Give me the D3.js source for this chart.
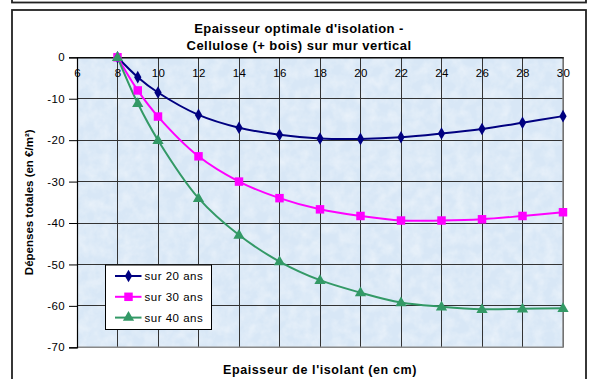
<!DOCTYPE html>
<html>
<head>
<meta charset="utf-8">
<script src="https://cdn.jsdelivr.net/npm/d3@7"></script>
<style>
  html, body { margin: 0; padding: 0; background: #ffffff; }
  svg { display: block; font-family: "Liberation Sans", Arial, sans-serif; }
</style>
</head>
<body>
<svg id="chart" width="589" height="379"></svg>
<script>
// Insulation thickness (cm) and cumulative total spending (€/m²)
const thickness = [8, 9, 10, 12, 14, 16, 18, 20, 22, 24, 26, 28, 30];
const over20 = [0, -4.8, -8.5, -13.9, -17.0, -18.7, -19.6, -19.7, -19.3, -18.4, -17.3, -15.8, -14.2];
const over30 = [0, -8.0, -14.3, -23.9, -30.0, -34.0, -36.7, -38.3, -39.4, -39.4, -39.1, -38.3, -37.4];
const over40 = [0, -11.1, -20.0, -34.0, -42.9, -49.3, -53.8, -56.8, -59.2, -60.2, -60.8, -60.7, -60.6];
const seriesNames = ["sur 20 ans", "sur 30 ans", "sur 40 ans"];
const seriesColors = ["#000080", "#ff00ff", "#339966"];
const xTicks = [6, 8, 10, 12, 14, 16, 18, 20, 22, 24, 26, 28, 30];
const yTicks = [0, -10, -20, -30, -40, -50, -60, -70];
const titleLines = ["Epaisseur optimale d'isolation -", "Cellulose (+ bois) sur mur vertical"];
const xTitle = "Epaisseur de l'isolant (en cm)";
const yTitle = "Dépenses totales (en €/m²)";

const svg = d3.select("#chart");
const plot = { left: 77, right: 563, top: 57.3, bottom: 347.3 };

const x = d3.scaleLinear().domain([6, 30]).range([plot.left, plot.right]);
const y = d3.scaleLinear().domain([-70, 0]).range([plot.bottom, plot.top]);

// Outer frames
svg.append("rect").attr("x", 12).attr("y", -10).attr("width", 574).attr("height", 12.5)
  .attr("fill", "none").attr("stroke", "#222").attr("stroke-width", 1.8);
svg.append("rect").attr("x", 12).attr("y", 10).attr("width", 574).attr("height", 380)
  .attr("fill", "#fff").attr("stroke", "#222").attr("stroke-width", 1.8);

// Plot background: pale blue paper with faint mottling
const defs = svg.append("defs");
const f = defs.append("filter").attr("id", "paper").attr("x", 0).attr("y", 0).attr("width", 1).attr("height", 1);
f.append("feTurbulence").attr("type", "fractalNoise").attr("baseFrequency", 0.09).attr("numOctaves", 3).attr("seed", 4).attr("result", "n");
f.append("feColorMatrix").attr("in", "n").attr("type", "matrix")
  .attr("values", "0 0 0 0 1  0 0 0 0 1  0 0 0 0 1  1.2 0 0 0 -0.4");
f.append("feComposite").attr("in2", "SourceGraphic").attr("operator", "in");

svg.append("rect").attr("x", plot.left).attr("y", plot.top)
  .attr("width", plot.right - plot.left).attr("height", plot.bottom - plot.top)
  .attr("fill", "#d8e7f6");
svg.append("rect").attr("x", plot.left).attr("y", plot.top)
  .attr("width", plot.right - plot.left).attr("height", plot.bottom - plot.top)
  .attr("fill", "#ffffff").attr("opacity", 0.6).attr("filter", "url(#paper)");

// Gridlines
const grid = svg.append("g").attr("stroke", "#333").attr("stroke-width", 1).attr("shape-rendering", "crispEdges");
grid.selectAll("line.v").data(xTicks).join("line")
  .attr("x1", d => x(d)).attr("x2", d => x(d)).attr("y1", plot.top).attr("y2", plot.bottom);
grid.selectAll("line.h").data(yTicks).join("line")
  .attr("x1", plot.left).attr("x2", plot.right).attr("y1", d => y(d)).attr("y2", d => y(d));

// Plot border (right / bottom in grey)
svg.append("path")
  .attr("d", `M${plot.right},${plot.top}V${plot.bottom}H${plot.left}`)
  .attr("fill", "none").attr("stroke", "#888").attr("stroke-width", 1.5);

const labelFont = "'Liberation Sans', Arial, sans-serif";

// Y axis on the left
const yAxis = d3.axisLeft(y).tickValues(yTicks).tickSize(8).tickPadding(4).tickFormat(d3.format("d"));
const gy = svg.append("g").attr("transform", `translate(${plot.left},0)`).call(yAxis);
gy.select(".domain").attr("stroke", "#000").attr("stroke-width", 1.2);
gy.selectAll(".tick line").attr("stroke", "#000");
gy.selectAll(".tick text").attr("font-size", 11.5).attr("letter-spacing", 0.4).attr("fill", "#000")
  .attr("font-family", labelFont).text(d => d3.format("d")(d).replace("−", "-"));

// X axis along the zero line, labels below it
const xAxis = d3.axisBottom(x).tickValues(xTicks).tickSize(0).tickPadding(12).tickFormat(d3.format("d"));
const gx = svg.append("g").attr("transform", `translate(0,${y(0)})`).call(xAxis);
gx.select(".domain").attr("stroke", "#000").attr("stroke-width", 1.2);
gx.selectAll(".tick text").attr("font-size", 11.5).attr("letter-spacing", 0.3).attr("fill", "#000")
  .attr("font-family", labelFont);

// Series lines and markers
const seriesValues = [over20, over30, over40];
const line = d3.line().x(d => x(d[0])).y(d => y(d[1])).curve(d3.curveCatmullRom.alpha(0.5));
const symbols = [d3.symbolDiamond, d3.symbolSquare, d3.symbolTriangle];
const symbolSizes = [46, 72, 55];

seriesValues.forEach((vals, i) => {
  const pts = thickness.map((t, k) => [t, vals[k]]);
  svg.append("path").datum(pts).attr("d", line)
    .attr("fill", "none").attr("stroke", seriesColors[i]).attr("stroke-width", 2);
});
seriesValues.forEach((vals, i) => {
  const pts = thickness.map((t, k) => [t, vals[k]]);
  const sym = d3.symbol().type(symbols[i]).size(symbolSizes[i]);
  svg.append("g").selectAll("path").data(pts).join("path")
    .attr("d", sym)
    .attr("transform", d => `translate(${x(d[0])},${y(d[1]) + (i === 2 ? 0.5 : 0)})`)
    .attr("fill", seriesColors[i]);
});

// Legend
const lg = svg.append("g").attr("transform", "translate(105.5,265)");
lg.append("rect").attr("width", 106).attr("height", 64.5)
  .attr("fill", "#fff").attr("stroke", "#000").attr("stroke-width", 1);
seriesNames.forEach((name, i) => {
  const yy = 11 + i * 20.8;
  lg.append("line").attr("x1", 9.5).attr("x2", 36).attr("y1", yy).attr("y2", yy)
    .attr("stroke", seriesColors[i]).attr("stroke-width", 2);
  lg.append("path").attr("d", d3.symbol().type(symbols[i]).size(symbolSizes[i])())
    .attr("transform", `translate(23,${yy})`).attr("fill", seriesColors[i]);
  lg.append("text").attr("x", 39).attr("y", yy + 4).attr("font-size", 11.5)
    .attr("letter-spacing", 0.5).attr("fill", "#000")
    .text(name);
});

// Titles
const title = svg.append("text").attr("text-anchor", "middle").attr("font-size", 13)
  .attr("letter-spacing", 0.45).attr("font-weight", "bold").attr("fill", "#000");
titleLines.forEach((t, i) => {
  title.append("tspan").attr("x", 299).attr("y", 32.8 + i * 17).text(t);
});
svg.append("text").attr("x", (plot.left + plot.right) / 2).attr("y", 374)
  .attr("text-anchor", "middle").attr("font-size", 12.5).attr("letter-spacing", 0.6)
  .attr("font-weight", "bold").attr("fill", "#000")
  .text(xTitle);
svg.append("text").attr("transform", `translate(32.5,${(plot.top + plot.bottom) / 2}) rotate(-90)`)
  .attr("text-anchor", "middle").attr("font-size", 11.5).attr("font-weight", "bold").attr("fill", "#000")
  .text(yTitle);
</script>
</body>
</html>
